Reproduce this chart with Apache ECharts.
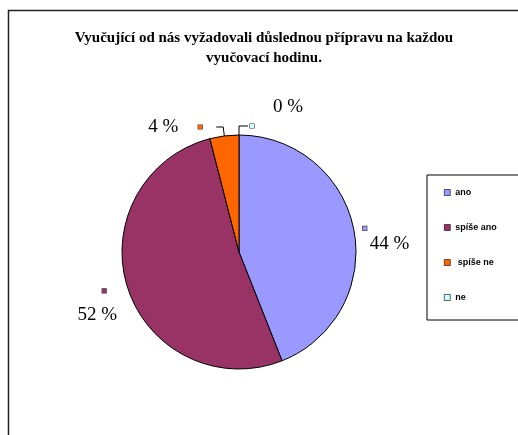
<!DOCTYPE html>
<html>
<head>
<meta charset="utf-8">
<script src="https://cdn.jsdelivr.net/npm/echarts@6/dist/echarts.min.js"></script>
<style>
html, body { margin: 0; padding: 0; background: #fff; }
#chart { width: 518px; height: 435px; }
</style>
</head>
<body>
<div id="chart"></div>
<script>
const titleText = 'Vyučující od nás vyžadovali důslednou přípravu na každou\nvyučovací hodinu.';
const categories = ['ano', 'spíše ano', ' spíše ne', 'ne'];
const percents = [44, 52, 4, 0];
const colors = ['#9999FF', '#993366', '#FF6600', '#CCFFFF'];

// label templates in the Excel style (small key square next to the value)
const labelFormats = [
    '{f|}\n{m|}\n{s|}{v|VAL %}',
    '{f|}\n{m|}{s2|}\n{v|VAL %}',
    '{v|VAL %}{s3|}{m|}',
    '{s4|}{v|VAL %}\n{m4|}\n{f|}'
];

function richFor(color) {
    const mark = {width: 4, height: 4, backgroundColor: color, borderColor: '#333', borderWidth: 0.6};
    return {
        f: {height: 20, lineHeight: 20},
        m: Object.assign({lineHeight: 12}, mark),
        m4: Object.assign({lineHeight: 18}, mark),
        s: {width: 7},
        s2: {width: 11},
        s3: {width: 20},
        s4: {width: 23},
        v: {fontFamily: 'Liberation Serif', fontSize: 19, lineHeight: 20, color: '#000'}
    };
}

const labelSetup = [
    {align: 'left', dist: 0, len: 9, len2: 0, line: false},
    {align: 'right', dist: 2, len: 9, len2: 0, line: false},
    {align: 'right', dist: 14, len: 9, len2: 7, line: true},
    {align: 'left', dist: 2, len: 9, len2: 9, line: true}
];

function makeItem(i) {
    const rich = richFor(colors[i]);
    if (i === 1) {
        rich.m.lineHeight = 28;
    }
    return {
        name: categories[i],
        value: percents[i],
        itemStyle: {color: colors[i]},
        label: {
            formatter: labelFormats[i].replace('VAL', percents[i]),
            rich: rich,
            align: labelSetup[i].align,
            distanceToLabelLine: labelSetup[i].dist
        },
        labelLine: {
            show: labelSetup[i].line,
            length: labelSetup[i].len,
            length2: labelSetup[i].len2
        }
    };
}

// the empty "ne" slice sits at 12 o'clock, so draw it first (its label goes to the right)
const pieData = [3, 0, 1, 2].map(makeItem);

const myChart = echarts.init(document.getElementById('chart'));
const option = {
    animation: false,
    backgroundColor: '#fff',
    title: {
        text: titleText,
        left: 259,
        top: 23,
        textAlign: 'center',
        textStyle: {
            fontFamily: 'Liberation Serif',
            fontWeight: 'bold',
            fontSize: 15,
            lineHeight: 20,
            color: '#000'
        }
    },
    legend: {
        orient: 'vertical',
        left: 427,
        top: 175,
        padding: [13, 50, 18, 17],
        itemGap: 26,
        itemWidth: 6,
        itemHeight: 6,
        icon: 'rect',
        borderColor: '#000',
        borderWidth: 1,
        itemStyle: {borderColor: '#000', borderWidth: 0.6},
        textStyle: {
            fontFamily: 'Liberation Sans',
            fontWeight: 'bold',
            fontSize: 9,
            color: '#000'
        },
        data: categories
    },
    graphic: [{
        type: 'rect',
        shape: {x: 8.5, y: 10.5, width: 560, height: 480},
        style: {fill: 'none', stroke: '#222', lineWidth: 1.5},
        silent: true
    }],
    series: [{
        type: 'pie',
        center: [239, 252],
        radius: 117,
        startAngle: 90,
        clockwise: true,
        minAngle: 0.01,
        avoidLabelOverlap: false,
        itemStyle: {borderColor: '#000', borderWidth: 1},
        label: {show: true, position: 'outside'},
        labelLine: {lineStyle: {color: '#000', width: 1}},
        emphasis: {disabled: true},
        data: pieData
    }]
};
myChart.setOption(option);
</script>
</body>
</html>
